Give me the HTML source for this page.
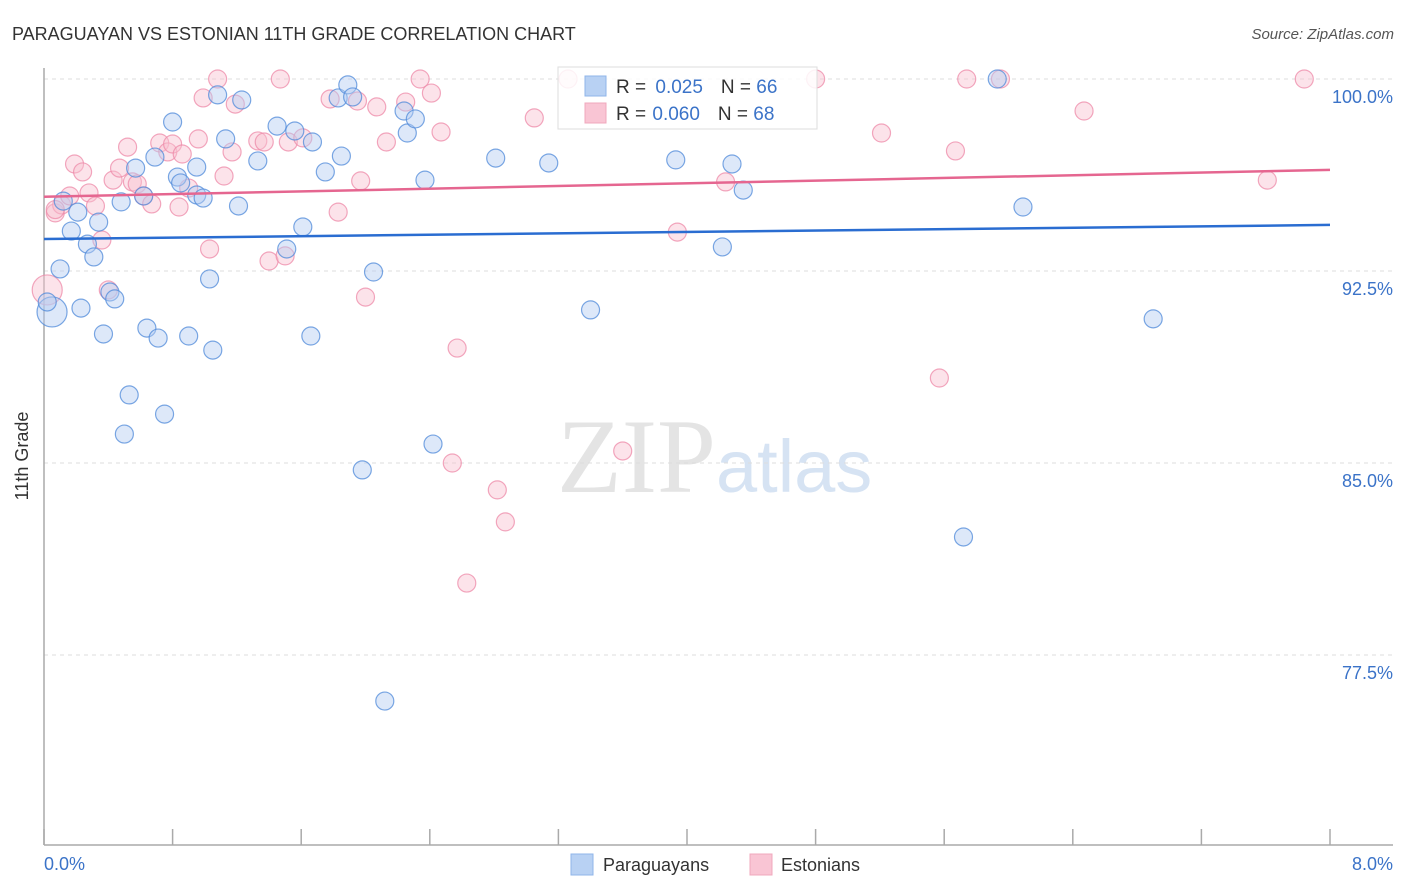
<!DOCTYPE html>
<html><head><meta charset="utf-8"><style>
body{margin:0;background:#fff;font-family:"Liberation Sans",sans-serif;}
svg{display:block}
</style></head><body>
<svg width="1406" height="892" viewBox="0 0 1406 892">
<text x="12" y="40" font-size="18" fill="#333">PARAGUAYAN VS ESTONIAN 11TH GRADE CORRELATION CHART</text>
<text x="1394" y="39" font-size="15" fill="#555" font-style="italic" text-anchor="end">Source: ZipAtlas.com</text>
<text x="716" y="492" font-size="106" fill="#e4e4e4" text-anchor="end" font-family="Liberation Serif">ZIP</text>
<text x="716" y="492" font-size="74" fill="#d6e3f3">atlas</text>
<g id="grid"></g>
<g id="axes"></g>
<g id="pts"></g>
<g id="lines"></g>
<text x="28" y="456" font-size="18" fill="#333" text-anchor="middle" transform="rotate(-90 28 456)">11th Grade</text>
<text x="44" y="870" font-size="18" fill="#3b73c8">0.0%</text>
<text x="1393" y="870" font-size="18" fill="#3b73c8" text-anchor="end">8.0%</text>
<g>
<rect x="558" y="67" width="259" height="62" fill="#fff" fill-opacity="0.85" stroke="#ddd"/>
<rect x="585" y="76" width="21" height="20" fill="#b8d1f3" stroke="#8fb5ea"/>
<rect x="585" y="103" width="21" height="20" fill="#f9c5d4" stroke="#f0a8bd"/>
<text x="616" y="93" font-size="19" fill="#333">R = <tspan fill="#3b73c8" dx="4">0.025</tspan><tspan dx="18">N = </tspan><tspan fill="#3b73c8">66</tspan></text>
<text x="616" y="120" font-size="19" fill="#333">R = <tspan fill="#3b73c8" dx="1">0.060</tspan><tspan dx="18">N = </tspan><tspan fill="#3b73c8">68</tspan></text>
</g>
<g>
<rect x="571" y="854" width="22" height="21" fill="#b8d1f3" stroke="#8fb5ea"/>
<text x="603" y="871" font-size="18" fill="#333">Paraguayans</text>
<rect x="750" y="854" width="22" height="21" fill="#f9c5d4" stroke="#f0a8bd"/>
<text x="781" y="871" font-size="18" fill="#333">Estonians</text>
</g>
</svg>
<script>
const yTicks=[100,92.5,85,77.5];
const yTickLabels=["100.0%","92.5%","85.0%","77.5%"];
const xTicks=[0,0.8,1.6,2.4,3.2,4,4.8,5.6,6.4,7.2,8];
const blueX=[.05,.02,.10,.17,.21,.12,.23,.27,.31,.34,.37,.41,.44,.48,.50,.53,.57,.62,.64,.69,.71,.75,.80,.83,.85,.90,.95,.95,.99,1.03,1.05,1.08,1.13,1.21,1.23,1.33,1.45,1.51,1.56,1.61,1.66,1.67,1.75,1.83,1.85,1.89,1.92,1.98,2.05,2.24,2.26,2.31,2.37,2.42,2.81,3.14,2.12,3.40,3.93,4.22,4.28,4.35,5.72,5.93,6.09,6.90];
const blueY=[90.90,91.29,92.58,94.06,94.80,95.23,91.05,93.55,93.05,94.41,90.04,91.68,91.41,95.20,86.13,87.66,96.52,95.43,90.27,96.95,89.88,86.91,98.32,96.17,95.94,89.96,96.56,95.47,95.35,92.19,89.41,99.38,97.66,95.04,99.18,96.80,98.16,93.36,97.97,94.22,89.96,97.54,96.37,99.26,96.99,99.77,99.30,84.73,92.46,98.75,97.89,98.44,96.05,85.74,96.91,96.72,75.70,90.98,96.84,93.44,96.68,95.66,82.11,100,95.0,90.63];
const pinkX=[.02,.07,.11,.16,.19,.24,.28,.32,.36,.40,.43,.47,.52,.55,.58,.62,.67,.72,.77,.80,.84,.86,.90,.96,.99,1.03,1.08,1.12,1.17,1.19,1.33,1.37,1.40,1.47,1.50,1.52,1.61,1.83,1.97,1.95,2.00,2.07,2.13,2.25,2.34,2.41,2.47,2.54,2.57,2.63,2.82,2.87,3.05,3.26,3.60,3.94,4.24,4.80,5.21,5.57,5.67,5.74,5.95,6.47,7.61,7.84,1.78,0.07];
const pinkY=[91.76,94.77,95.08,95.43,96.68,96.37,95.55,95.04,93.71,91.76,96.05,96.52,97.34,95.98,95.90,95.43,95.12,97.50,97.15,97.46,95.0,97.07,95.74,97.66,99.26,93.36,100,96.21,97.15,99.02,97.58,97.54,92.89,100,93.09,97.54,97.70,94.80,96.02,99.14,91.48,98.91,97.54,99.10,100,99.45,97.93,85.0,89.49,80.31,83.95,82.70,98.48,100,85.47,94.02,95.98,100,97.89,88.32,97.19,100,100,98.75,96.05,100,99.22,94.9];
const blueTrend=[93.75,94.3];
const pinkTrend=[95.4,96.45];
const NS="http://www.w3.org/2000/svg";
const X=v=>44+v/8*1286;
const Y=v=>79+(100-v)/7.5*192;
function mk(tag,attrs,parent){const e=document.createElementNS(NS,tag);for(const k in attrs)e.setAttribute(k,attrs[k]);parent.appendChild(e);return e;}
const grid=document.getElementById('grid'),axes=document.getElementById('axes'),pts=document.getElementById('pts'),lines=document.getElementById('lines');
yTicks.forEach((t,i)=>{
 const l=mk('line',{x1:44,x2:1393,y1:Y(t),y2:Y(t),stroke:'#ddd','stroke-dasharray':'4 4'},grid);
 
 
 const tx=mk('text',{x:1393,y:Y(t)+24,'font-size':18,fill:'#3b73c8','text-anchor':'end'},grid);
 tx.textContent=yTickLabels[i];
 
 
});
const ya=mk('line',{x1:44,x2:44,y1:68,y2:845,stroke:'#aaa','stroke-width':1.5},axes);


const xa=mk('line',{x1:44,x2:1393,y1:845,y2:845,stroke:'#aaa','stroke-width':1.5},axes);


xTicks.forEach(t=>{
 const l=mk('line',{x1:X(t),x2:X(t),y1:829,y2:845,stroke:'#aaa','stroke-width':1.5},axes);
 
 
});
function drawPts(xs,ys,fill,stroke,name){
 xs.forEach((x,i)=>{
  const r=(i===0)?15:9;
  const c=mk('circle',{cx:X(x),cy:Y(ys[i]),r:r,fill:fill,'fill-opacity':0.45,stroke:stroke,'stroke-width':1.2,'stroke-opacity':0.75},pts);
  
  
 });
}
drawPts(pinkX,pinkY,'#f9c0d0','#ee8aa8','estonian-point');
drawPts(blueX,blueY,'#b3cdf2','#4f8ad9','paraguayan-point');
const bl=mk('line',{x1:X(0),x2:X(8),y1:Y(blueTrend[0]),y2:Y(blueTrend[1]),stroke:'#2a6dd1','stroke-width':2.5},lines);


const pl=mk('line',{x1:X(0),x2:X(8),y1:Y(pinkTrend[0]),y2:Y(pinkTrend[1]),stroke:'#e56690','stroke-width':2.5},lines);


</script>
</body></html>
